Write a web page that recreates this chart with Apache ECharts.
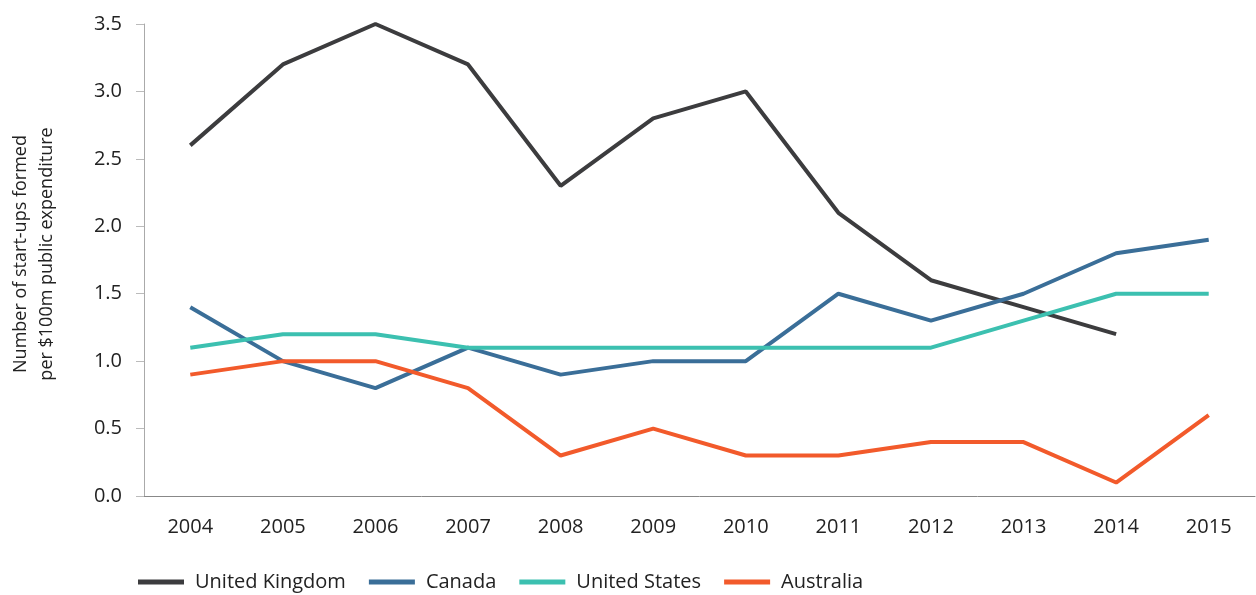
<!DOCTYPE html>
<html>
<head>
<meta charset="utf-8">
<script src="https://cdn.jsdelivr.net/npm/echarts@6/dist/echarts.min.js"></script>
<style>
  html, body { margin: 0; padding: 0; background: #fff; }
  #chart { width: 1256px; height: 595px; }
</style>
</head>
<body>
<div id="chart"></div>
<script>
// years on the x axis
const years = ['2004', '2005', '2006', '2007', '2008', '2009', '2010', '2011', '2012', '2013', '2014', '2015']

// start-ups per $100m public expenditure
const ukData        = [2.6, 3.2, 3.5, 3.2, 2.3, 2.8, 3.0, 2.1, 1.6, 1.4, 1.2, null]
const canadaData    = [1.4, 1.0, 0.8, 1.1, 0.9, 1.0, 1.0, 1.5, 1.3, 1.5, 1.8, 1.9]
const usData        = [1.1, 1.2, 1.2, 1.1, 1.1, 1.1, 1.1, 1.1, 1.1, 1.3, 1.5, 1.5]
const australiaData = [0.9, 1.0, 1.0, 0.8, 0.3, 0.5, 0.3, 0.3, 0.4, 0.4, 0.1, 0.6]

const font = '"Open Sans", "Noto Sans", sans-serif'

const chart = echarts.init(document.getElementById('chart'))

function line(name, data, color) {
  return {
    name,
    type: 'line',
    data,
    symbol: 'none',
    lineStyle: { color, width: 4 },
    itemStyle: { color },
    animation: false
  }
}

chart.setOption({
  textStyle: { fontFamily: font },
  grid: { left: 143, right: 1, top: 24, bottom: 99 },
  legend: {
    top: 567,
    left: 133,
    icon: 'rect',
    itemWidth: 46,
    itemHeight: 5,
    itemGap: 23,
    textStyle: { fontSize: 20, color: '#222', fontFamily: font, padding: [0, 0, 0, 6] },
    data: ['United Kingdom', 'Canada', 'United States', 'Australia']
  },
  xAxis: {
    type: 'category',
    data: years,
    boundaryGap: true,
    axisLine: { lineStyle: { color: '#888', width: 1 } },
    axisTick: { alignWithLabel: true, length: 6, lineStyle: { color: '#aaa' } },
    axisLabel: { fontSize: 20, color: '#222', margin: 21 }
  },
  yAxis: {
    type: 'value',
    min: 0,
    max: 3.5,
    interval: 0.5,
    name: 'Number of start-ups formed\nper $100m public expenditure',
    nameLocation: 'middle',
    nameGap: 84,
    nameTextStyle: { fontSize: 18, color: '#222', lineHeight: 26, padding: [0, 0, 0, 12] },
    splitLine: { show: false },
    axisLine: { show: true, lineStyle: { color: '#aaa', width: 1 } },
    axisTick: { show: true, length: 8, lineStyle: { color: '#bbb' } },
    axisLabel: {
      fontSize: 20,
      color: '#222',
      margin: 22,
      formatter: v => v.toFixed(1)
    }
  },
  series: [
    line('United Kingdom', ukData, '#3c3c3e'),
    line('Canada', canadaData, '#3a6e98'),
    line('United States', usData, '#3cc0b0'),
    line('Australia', australiaData, '#f25a2b')
  ]
})
</script>
</body>
</html>
